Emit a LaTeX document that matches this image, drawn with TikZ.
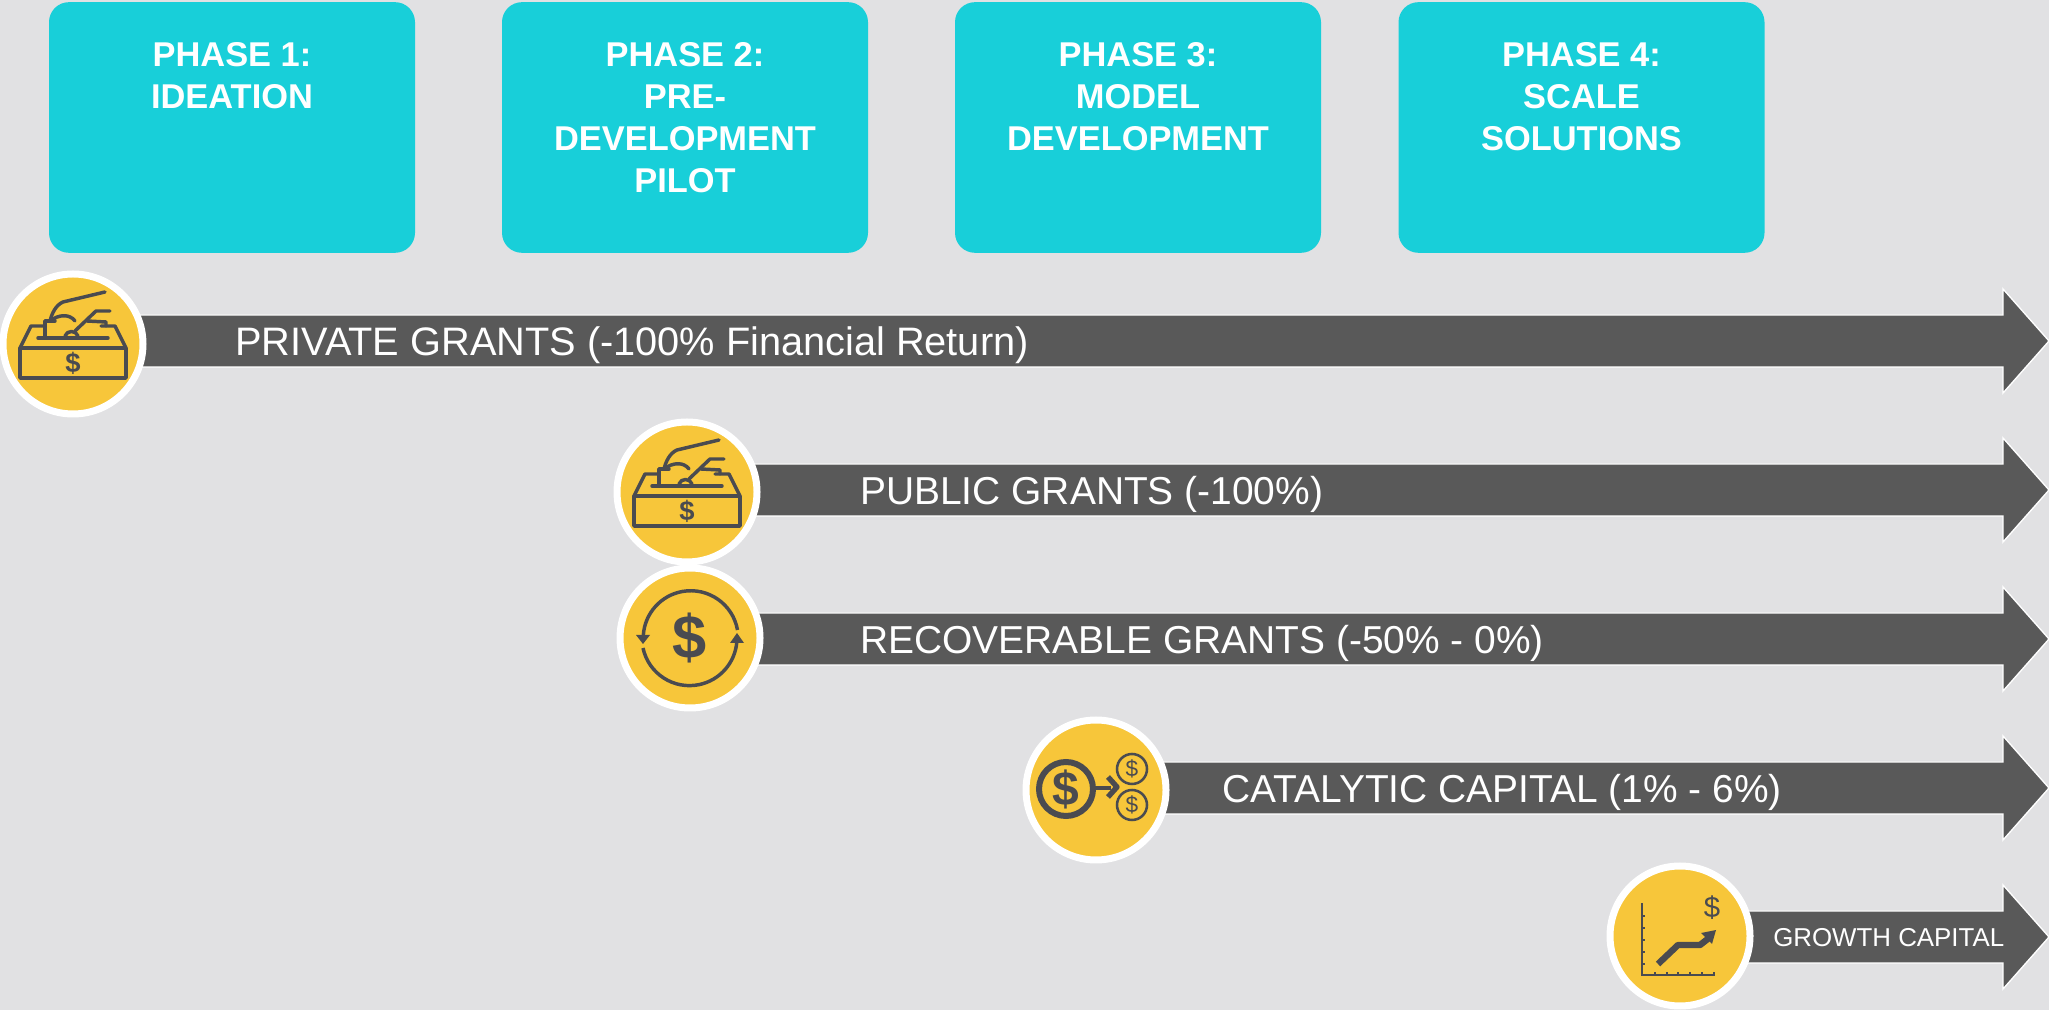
\documentclass[tikz,border=0pt]{standalone}
\usepackage{fontspec}
\setmainfont{Liberation Sans}
\usetikzlibrary{positioning}

\definecolor{pagegrey}{HTML}{E1E1E3}
\definecolor{phaseteal}{HTML}{18CFD9}
\definecolor{coinyellow}{HTML}{F7C63A}
\definecolor{bardark}{HTML}{595959}
\definecolor{inkdark}{HTML}{4A4B50}

\tikzset{
  phasebox/.style={fill=phaseteal,rounded corners=15pt,minimum width=274.5pt,minimum height=188pt,inner sep=0pt},
  phasetext/.style={text=white,font=\bfseries\fontsize{25.8}{31.5}\selectfont,align=center,inner sep=0pt},
  barshape/.style={fill=bardark,draw=white,line width=1pt},
  barlabel/.style={text=white,font=\fontsize{29.2}{36}\selectfont,anchor=west,inner sep=0pt},
  coin/.style={circle,fill=coinyellow,draw=white,line width=5.25pt,minimum size=105pt,inner sep=0pt},
  inkline/.style={draw=inkdark,line width=2.6pt,line join=round,line cap=round},
  inkfill/.style={fill=inkdark},
  ballotbox/.pic={
    \draw[inkline] (-53,-4) rectangle (53,-34);
    \draw[inkline] (-53,-4) -- (-42,18) -- (-28,18);
    \draw[inkline] (28,18) -- (42,18) -- (53,-4);
    \draw[inkline] (-35,6) -- (35,6);
    \draw[inkline] (-28,6) -- (-28,23) -- (-18,23);
    \draw[inkline] (32,52) -- (-10,42) .. controls (-17,39) and (-21,31) .. (-23,23);
    \draw[inkline] (-23,23) .. controls (-14,30) and (-3,30) .. (2,23);
    \draw[inkline] (37,33) -- (23,33) -- (2,13);
    \draw[inkline] (14,23) -- (33,22) -- (33,18);
    \draw[inkline] (-8,8) .. controls (-6,14) and (3,14) .. (5,8);
    \node[text=inkdark,font=\bfseries\fontsize{20.5}{21}\selectfont,inner sep=0pt] (dollar) at (0,-19) {\$};
  },
  cycleicon/.pic={
    \draw[inkline,line cap=butt] (47.5,8) arc (10:176:47.5);
    \draw[inkline,line cap=butt] (-47,-10) arc (192:355:47.5);
    \fill[inkfill] (-54,3) -- (-40,3) -- (-47,-6) -- cycle;
    \fill[inkfill] (40,-5) -- (54,-5) -- (47,5) -- cycle;
    \node[text=inkdark,font=\bfseries\fontsize{46}{46}\selectfont,inner sep=0pt] (dollar) at (0,0) {\$};
  },
  spliticon/.pic={
    \draw[draw=inkdark,line width=4.5pt] (-30,1) circle (27);
    \draw[inkline,line cap=butt,line width=3.4pt] (-3,2) -- (15,2);
    \draw[inkline,line cap=butt,line width=4pt] (12,13) -- (21,3) -- (12,-7);
    \draw[draw=inkdark,line width=1.9pt] (36,21) circle (15);
    \draw[draw=inkdark,line width=1.9pt] (36,-15) circle (15);
    \node[text=inkdark,font=\bfseries\fontsize{36}{36}\selectfont,inner sep=0pt] (dollarbig) at (-30,1) {\$};
    \node[text=inkdark,font=\fontsize{17}{17}\selectfont,inner sep=0pt] (dollarup) at (36,21) {\$};
    \node[text=inkdark,font=\fontsize{17}{17}\selectfont,inner sep=0pt] (dollardown) at (36,-15) {\$};
  },
  growthicon/.pic={
    \draw[draw=inkdark,line width=1.5pt] (-38,33) -- (-38,-39) -- (35,-39);
    \foreach \tick in {20,8,-4,-16,-28} \draw[draw=inkdark,line width=1.2pt] (-38,\tick) -- (-35,\tick);
    \foreach \tick in {-25,-13,-2,10,22,34} \draw[draw=inkdark,line width=1.2pt] (\tick,-39) -- (\tick,-36);
    \draw[inkline,line width=4.8pt,line cap=butt] (-22,-28) -- (-2,-9) -- (20,-9) -- (29,-2);
    \fill[inkfill] (36,6) -- (21,3) -- (32,-8) -- cycle;
    \node[text=inkdark,font=\fontsize{22}{22}\selectfont,inner sep=0pt] (dollar) at (32,28) {\$};
  },
}

\begin{document}
\begin{tikzpicture}[x=0.75pt,y=0.75pt]

\useasboundingbox (0,0) rectangle (2049,1010);
\fill[pagegrey] (0,0) rectangle (2049,1010);

\node[phasebox] (phaseone) at (232,882.5) {};
\node[phasebox] (phasetwo) at (685,882.5) {};
\node[phasebox] (phasethree) at (1138,882.5) {};
\node[phasebox] (phasefour) at (1581.5,882.5) {};

\node[phasetext,below=30.5pt of phaseone.north] (textone) {PHASE 1:\\IDEATION};
\node[phasetext,below=30.5pt of phasetwo.north] (texttwo) {PHASE 2:\\PRE-\\DEVELOPMENT\\PILOT};
\node[phasetext,below=30.5pt of phasethree.north] (textthree) {PHASE 3:\\MODEL\\DEVELOPMENT};
\node[phasetext,below=30.5pt of phasefour.north] (textfour) {PHASE 4:\\SCALE\\SOLUTIONS};

\foreach \startx/\midy in {100/669,720/520,720/371,1130/222,1710/73}
  \draw[barshape] (\startx,\midy-26) -- (2003,\midy-26) -- (2003,\midy-52) -- (2049,\midy)
    -- (2003,\midy+52) -- (2003,\midy+26) -- (\startx,\midy+26) -- cycle;

\node[barlabel,font=\fontsize{29.8}{36}\selectfont] (private) at (235,665) {PRIVATE GRANTS (-100\% Financial Return)};
\node[barlabel] (public) at (860,516) {PUBLIC GRANTS (-100\%)};
\node[barlabel] (recoverable) at (860,367) {RECOVERABLE GRANTS (-50\% - 0\%)};
\node[barlabel] (catalytic) at (1222,218) {CATALYTIC CAPITAL (1\% - 6\%)};
\node[barlabel,font=\fontsize{19.4}{22}\selectfont] (growth) at (1773,72) {GROWTH CAPITAL};

\node[coin] (coinprivate) at (73,666) {};
\node[coin] (coinpublic) at (687,518) {};
\node[coin] (coinrecover) at (690,372) {};
\node[coin] (coincatalytic) at (1096,220) {};
\node[coin] (coingrowth) at (1680,74) {};

\pic (iconprivate) at (coinprivate) {ballotbox};
\pic (iconpublic) at (coinpublic) {ballotbox};
\pic (iconrecover) at (coinrecover) {cycleicon};
\pic (iconcatalytic) at (coincatalytic) {spliticon};
\pic (icongrowth) at (coingrowth) {growthicon};

\end{tikzpicture}
\end{document}
